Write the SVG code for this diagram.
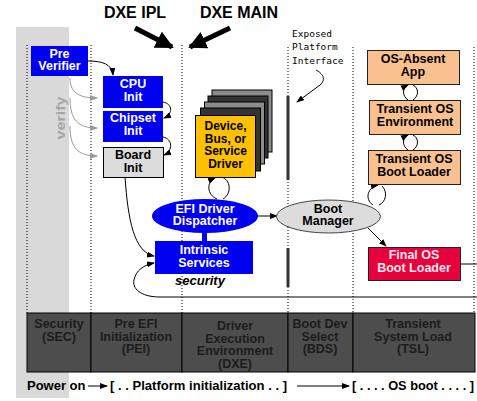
<svg xmlns="http://www.w3.org/2000/svg" width="477" height="401" viewBox="0 0 477 401">
<style>
text{font-family:"Liberation Sans",Arial,sans-serif;font-weight:bold;font-size:12.5px;text-anchor:middle}
.w{fill:#ffffff}
.k{fill:#000000}
.blue{fill:#0000f0}
.orange{fill:#fac08f;stroke:#222;stroke-width:1}
.phase{fill:#4d4d4d;stroke:#000;stroke-width:1}
.pt{fill:#1c1c1c}
.dot{stroke:#000;stroke-width:1;stroke-dasharray:1,2;fill:none}
.c{fill:none;stroke:#000;stroke-width:1}
.g{fill:none;stroke:#999;stroke-width:1}
.hand{font-family:"DejaVu Sans Mono","Liberation Mono",monospace;font-weight:normal;font-size:9.5px;text-anchor:start;fill:#000}
</style>
<defs>
<marker id="a" markerUnits="userSpaceOnUse" markerWidth="8" markerHeight="6" refX="7" refY="3" orient="auto"><path d="M0,0 L8,3 L0,6 z" fill="#000"/></marker>
<marker id="ag" markerUnits="userSpaceOnUse" markerWidth="8" markerHeight="6" refX="7" refY="3" orient="auto"><path d="M0,0 L8,3 L0,6 z" fill="#999"/></marker>
<marker id="big" markerUnits="userSpaceOnUse" markerWidth="18" markerHeight="18" refX="16" refY="9" orient="auto"><path d="M0,0 L18,9 L0,18 z" fill="#000"/></marker>
</defs>
<rect width="477" height="401" fill="#ffffff"/>
<rect x="16" y="27" width="53" height="371" fill="#d9d9d9"/>
<g id="lanes">
<line class="dot" x1="27" y1="45" x2="27" y2="313"/>
<line class="dot" x1="91" y1="45" x2="91" y2="313"/>
<line class="dot" x1="182" y1="45" x2="182" y2="313"/>
<line class="dot" x1="288" y1="47" x2="288" y2="313"/>
<line class="dot" x1="353" y1="47" x2="353" y2="313"/>
<line class="dot" x1="474" y1="47" x2="474" y2="313"/>
</g>
<text x="135" y="18" style="font-size:16px">DXE IPL</text>
<text x="239" y="18" style="font-size:16px">DXE MAIN</text>
<text class="hand" x="292" y="37">Exposed</text>
<text class="hand" x="292" y="50">Platform</text>
<text class="hand" x="292" y="64">Interface</text>
<text transform="translate(65,118) rotate(-90)" style="fill:#a6a6a6;font-size:13px" textLength="43" lengthAdjust="spacingAndGlyphs">verify</text>
<rect x="286.5" y="96" width="3" height="84" fill="#333"/>
<rect x="286.5" y="248" width="3" height="39" fill="#333"/>
<g id="connectors">
<path d="M135,28 L172,47" stroke="#000" stroke-width="5" fill="none" marker-end="url(#big)"/>
<path d="M230,28 L190,47" stroke="#000" stroke-width="5" fill="none" marker-end="url(#big)"/>
<path class="c" d="M316,70 C322,73 327,79 320,85 L297,102" marker-end="url(#a)"/>
<path class="c" d="M88,61 C102,61 112,64 113,75" marker-end="url(#a)"/>
<path class="c" d="M163,102 C173,104 173,114 164,118" marker-end="url(#a)"/>
<path class="c" d="M163,137 C173,139 173,151 164,155" marker-end="url(#a)"/>
<path class="g" d="M70,78 C70,92 78,98 97,98" marker-end="url(#ag)"/>
<path class="g" d="M70,98 C70,120 78,128 97,128" marker-end="url(#ag)"/>
<path class="g" d="M70,126 C70,148 78,156 97,156" marker-end="url(#ag)"/>
<path class="c" d="M125,177 C128,220 134,252 154,256" marker-end="url(#a)"/>
<path class="c" d="M477,297 L160,297 C140,297 132,288 134,280 C136,270 144,265 154,263" marker-end="url(#a)"/>
<path class="c" d="M217,199 C207,195 206,182 215,178" marker-end="url(#a)"/>
<path class="c" d="M221,177 C231,179 232,194 223,199"/>
<path class="c" d="M258,216 L277,216" marker-end="url(#a)"/>
<path class="c" d="M373,205 C364,199 368,187 378,185" marker-end="url(#a)"/>
<path class="c" d="M382,186 C388,192 386,202 379,205"/>
<path class="c" d="M408,100 C402,96 402,88 408,85" marker-end="url(#a)"/>
<path class="c" d="M413,85 C419,88 419,96 413,100"/>
<path class="c" d="M408,150 C402,146 402,138 408,135" marker-end="url(#a)"/>
<path class="c" d="M413,135 C419,138 419,146 413,150"/>
<path class="c" d="M368,228 L386,246" marker-end="url(#a)"/>
<path class="c" d="M460,264 L477,264"/>
</g>
<g id="pre-verifier"><rect class="blue" x="31" y="46" width="57" height="30"/><text class="w" x="59.5" y="57.5">Pre</text><text class="w" x="59.5" y="70">Verifier</text></g>
<g id="cpu-init"><rect class="blue" x="103" y="76" width="60" height="32"/><text class="w" x="133" y="88">CPU</text><text class="w" x="133" y="101">Init</text></g>
<g id="chipset-init"><rect class="blue" x="103" y="111" width="60" height="31"/><text class="w" x="133" y="122">Chipset</text><text class="w" x="133" y="135">Init</text></g>
<g id="board-init"><rect x="103.5" y="147.5" width="60" height="30" fill="#dcdcdc" stroke="#000"/><text class="k" x="133" y="159">Board</text><text class="k" x="133" y="172">Init</text></g>
<g id="driver">
<rect x="212" y="90" width="60" height="62" fill="#8c8c8c" stroke="#000"/>
<rect x="208" y="96" width="60" height="62" fill="#333" stroke="#000"/>
<rect x="204.5" y="102" width="60" height="62" fill="#8c8c8c" stroke="#000"/>
<rect x="200.5" y="108" width="60" height="63" fill="#333" stroke="#000"/>
<rect x="195.5" y="115.5" width="60" height="62" fill="#ffc000" stroke="#000"/>
<text class="k" x="225.5" y="130" style="font-size:12px">Device,</text>
<text class="k" x="225.5" y="142.5" style="font-size:12px">Bus, or</text>
<text class="k" x="225.5" y="155" style="font-size:12px">Service</text>
<text class="k" x="225.5" y="167.5" style="font-size:12px">Driver</text>
</g>
<g id="dispatcher"><rect class="blue" x="202" y="231" width="5" height="11"/><ellipse class="blue" cx="205" cy="216" rx="53" ry="17"/><text class="w" x="205" y="212.5">EFI Driver</text><text class="w" x="205" y="225">Dispatcher</text></g>
<g id="intrinsic"><rect class="blue" x="155" y="241" width="98" height="33"/><text class="w" x="204" y="254">Intrinsic</text><text class="w" x="204" y="267">Services</text><text class="k" x="200" y="285" style="font-style:italic;font-size:13px">security</text></g>
<g id="boot-manager"><ellipse cx="328.5" cy="216.5" rx="52" ry="16.5" fill="#dcdcdc" stroke="#444"/><text class="k" x="328" y="212.5">Boot</text><text class="k" x="328" y="225">Manager</text></g>
<g id="os-absent"><rect class="orange" x="367.5" y="50.5" width="92" height="34"/><text class="k" x="413" y="63">OS-Absent</text><text class="k" x="413" y="75.5">App</text></g>
<g id="tos-env"><rect class="orange" x="369.5" y="100.5" width="91" height="34"/><text class="k" x="415" y="113">Transient OS</text><text class="k" x="415" y="126">Environment</text></g>
<g id="tos-loader"><rect class="orange" x="368.5" y="150.5" width="92" height="34"/><text class="k" x="414" y="163">Transient OS</text><text class="k" x="414" y="176">Boot Loader</text></g>
<g id="final-loader"><rect x="368.5" y="247.5" width="92" height="33" fill="#e6003c" stroke="#222"/><text x="414" y="259" fill="#ffe8f0">Final OS</text><text x="414" y="272" fill="#ffe8f0">Boot Loader</text></g>
<g id="phases">
<rect class="phase" x="27" y="313" width="64" height="59"/>
<rect class="phase" x="91" y="313" width="91" height="59"/>
<rect class="phase" x="182" y="313" width="106" height="59"/>
<rect class="phase" x="288" y="313" width="65" height="59"/>
<rect class="phase" x="353" y="313" width="122" height="59"/>
<text class="pt" x="59" y="328">Security</text><text class="pt" x="59" y="340.5">(SEC)</text>
<text class="pt" x="136" y="328">Pre EFI</text><text class="pt" x="136" y="340.5">Initialization</text><text class="pt" x="136" y="353">(PEI)</text>
<text class="pt" x="235" y="330">Driver</text><text class="pt" x="235" y="342.5">Execution</text><text class="pt" x="235" y="355">Environment</text><text class="pt" x="235" y="367.5">(DXE)</text>
<text class="pt" x="320" y="328">Boot Dev</text><text class="pt" x="320" y="340.5">Select</text><text class="pt" x="320" y="353">(BDS)</text>
<text class="pt" x="413" y="328">Transient</text><text class="pt" x="413" y="340.5">System Load</text><text class="pt" x="413" y="353">(TSL)</text>
</g>
<g id="timeline">
<text class="k" x="27" y="390" style="text-anchor:start;font-size:13px">Power on</text>
<path class="c" d="M88,386 L107,386" marker-end="url(#a)"/>
<text class="k" x="110" y="390" style="text-anchor:start;font-size:13px" textLength="177" lengthAdjust="spacingAndGlyphs">[ . . Platform initialization . . ]</text>
<path class="c" d="M297,386 L349,386" marker-end="url(#a)"/>
<text class="k" x="352" y="390" style="text-anchor:start;font-size:13px" textLength="122" lengthAdjust="spacingAndGlyphs">[ . . . . OS boot . . . . ]</text>
</g>
</svg>
